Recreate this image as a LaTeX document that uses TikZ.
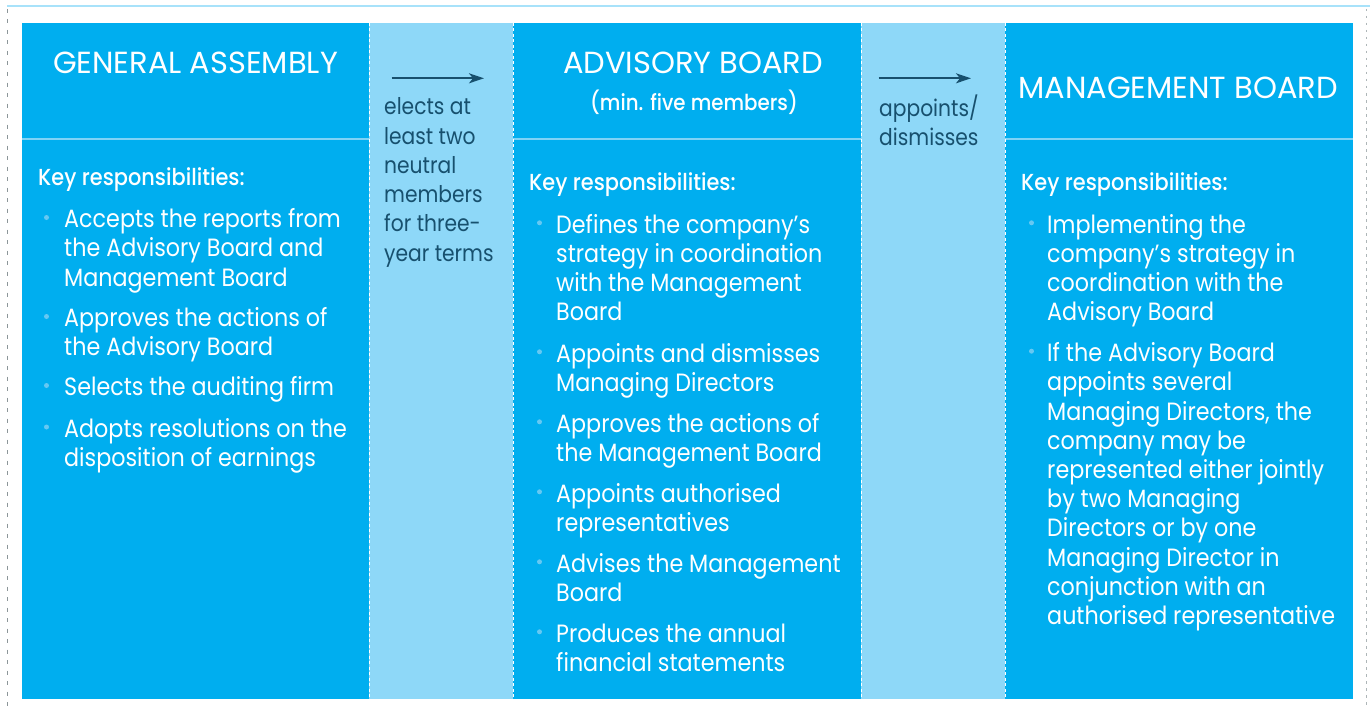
\documentclass[tikz,border=0pt]{standalone}
\usepackage{fontspec}
\setmainfont{Poppins}[FakeStretch=0.89]
\newfontfamily\medfont{Poppins}[UprightFont={* Medium},FakeStretch=0.9]
\newfontfamily\headfont{Poppins}[FakeStretch=1.0]
\newfontfamily\linkfont{Poppins}[FakeStretch=0.88]
\usetikzlibrary{arrows.meta}

\definecolor{boardblue}{HTML}{00AEEF}
\definecolor{linkblue}{HTML}{8ED8F8}
\definecolor{rulecol}{HTML}{7FD3F6}
\definecolor{dotcol}{HTML}{66C8F2}
\definecolor{inktext}{HTML}{17506E}
\definecolor{framegray}{HTML}{8C9699}
\definecolor{topline}{HTML}{A8E2FA}

\tikzset{
  head/.style={text=white, inner sep=0, anchor=base, font=\headfont\fontsize{30.5bp}{34bp}\selectfont},
  sub/.style={text=white, inner sep=0, anchor=base, font=\medfont\fontsize{22bp}{26bp}\selectfont},
  keyline/.style={text=white, inner sep=0, anchor=base west, font=\medfont\fontsize{23.2bp}{27bp}\selectfont},
  bodyline/.style={text=white, inner sep=0, font=\fontsize{25bp}{29bp}\selectfont},
  linkline/.style={text=inktext, inner sep=0, font=\linkfont\fontsize{23bp}{27bp}\selectfont},
  bullet/.style={circle, fill=dotcol, inner sep=0, minimum size=5bp},
  flow/.style={draw=inktext, line width=1.8bp, -{Stealth[length=15bp,width=10bp,inset=4bp]}},
  colsep/.style={draw=white, line width=1bp, dash pattern=on 3bp off 2.5bp},
}

% #1 name, #2 x, #3 first baseline, #4 style, #5 lines
\newcommand\textlines[5]{%
  \foreach \t [count=\i] in {#5} {%
    \node[#4, anchor=base west] (#1-\i) at (#2, {#3+(\i-1)*29.2}) {\t};}}

\begin{document}
\begin{tikzpicture}[x=1bp, y=-1bp]
\useasboundingbox (0,0) rectangle (1370,709);
\fill[white] (0,0) rectangle (1370,709);

% outer frame
\draw[topline, line width=1.5bp] (7,6) -- (1370,6);
\draw[framegray, line width=1bp, dash pattern=on 4bp off 6.5bp] (7.5,9) -- (7.5,709);
\draw[framegray!70, line width=1bp, dash pattern=on 2.5bp off 4.5bp] (1366.5,9) -- (1366.5,709);

% columns
\fill[boardblue] (22,23) rectangle (369,699);
\fill[linkblue] (369,23) rectangle (513,699);
\fill[boardblue] (513,23) rectangle (861,699);
\fill[linkblue] (861,23) rectangle (1005,699);
\fill[boardblue] (1005,23) rectangle (1353,699);

% rule below the headings
\draw[rulecol, line width=1.5bp] (22,139) -- (369,139);
\draw[rulecol, line width=1.5bp] (513,139) -- (861,139);
\draw[rulecol, line width=1.5bp] (1005,139) -- (1353,139);

% dashed column separators
\foreach \x in {369,513,861,1005} \draw[colsep] (\x,23) -- (\x,699);

% headings
\node[head] (ga) at (195.5,74) {GENERAL ASSEMBLY};
\node[head] (ab) at (693,73.3) {ADVISORY BOARD};
\node[sub] (ab-sub) at (694,111) {(min. five members)};
\node[head] (mb) at (1178,99) {MANAGEMENT BOARD};

% links between the bodies
\coordinate (e-from) at (391.5,78.3);
\coordinate (e-to) at (484,78.3);
\draw[flow] (e-from) -- (e-to);
\textlines{elect}{384}{115}{linkline}{elects at, least two, neutral, members, for three-, year terms}

\coordinate (a-from) at (878.5,78.3);
\coordinate (a-to) at (971,78.3);
\draw[flow] (a-from) -- (a-to);
\textlines{appoint}{879}{116.5}{linkline}{appoints/, dismisses}

% General Assembly responsibilities
\node[keyline] (ga-key) at (38,185) {Key responsibilities:};
\node[bullet] (ga-d1) at (46.5,217.5) {};
\textlines{ga-a}{64}{227.7}{bodyline}{Accepts the reports from, the Advisory Board and, Management Board}
\node[bullet] (ga-d2) at (46.5,316.5) {};
\textlines{ga-b}{64}{326.7}{bodyline}{Approves the actions of, the Advisory Board}
\node[bullet] (ga-d3) at (46.5,385.5) {};
\textlines{ga-c}{64}{395.7}{bodyline}{Selects the auditing firm}
\node[bullet] (ga-d4) at (46.5,427) {};
\textlines{ga-d}{64}{437}{bodyline}{Adopts resolutions on the, disposition of earnings}

% Advisory Board responsibilities
\node[keyline] (ab-key) at (529,190) {Key responsibilities:};
\node[bullet] (ab-d1) at (539.5,222.8) {};
\textlines{ab-a}{556}{233.3}{bodyline}{Defines the company’s, strategy in coordination, with the Management, Board}
\node[bullet] (ab-d2) at (539.5,351.8) {};
\textlines{ab-b}{556}{362.3}{bodyline}{Appoints and dismisses, Managing Directors}
\node[bullet] (ab-d3) at (539.5,421.8) {};
\textlines{ab-c}{556}{432.3}{bodyline}{Approves the actions of, the Management Board}
\node[bullet] (ab-d4) at (539.5,491.8) {};
\textlines{ab-d}{556}{502.3}{bodyline}{Appoints authorised, representatives}
\node[bullet] (ab-d5) at (539.5,561.8) {};
\textlines{ab-e}{556}{572.3}{bodyline}{Advises the Management, Board}
\node[bullet] (ab-d6) at (539.5,631.8) {};
\textlines{ab-f}{556}{642.3}{bodyline}{Produces the annual, financial statements}

% Management Board responsibilities
\node[keyline] (mb-key) at (1021,190) {Key responsibilities:};
\node[bullet] (mb-d1) at (1031.5,222.8) {};
\textlines{mb-a}{1047}{233.3}{bodyline}{Implementing the, company’s strategy in, coordination with the, Advisory Board}
\node[bullet] (mb-d2) at (1031.5,351.2) {};
\textlines{mb-b}{1047}{361.7}{bodyline}{If the Advisory Board, appoints several, {Managing Directors, the}, company may be, represented either jointly, by two Managing, Directors or by one, Managing Director in, conjunction with an, authorised representative}
\end{tikzpicture}
\end{document}
